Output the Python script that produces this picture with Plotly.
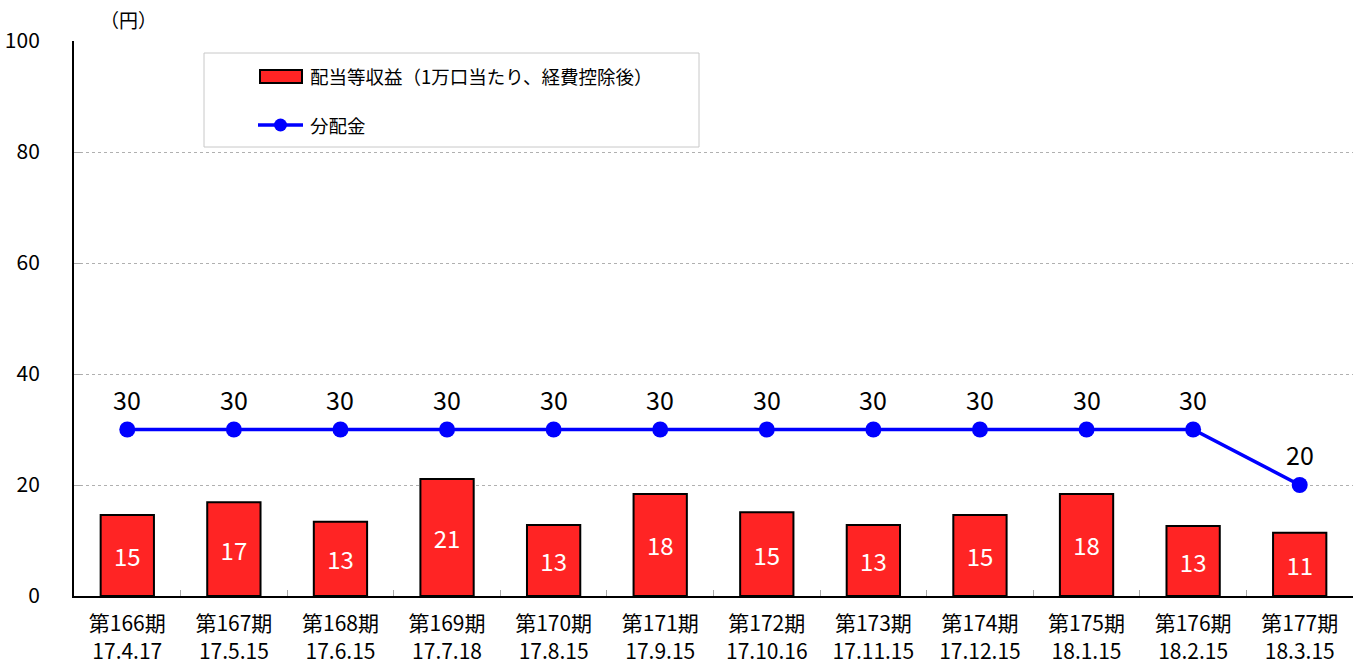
import plotly.graph_objects as go

periods = ["第166期", "第167期", "第168期", "第169期", "第170期", "第171期",
           "第172期", "第173期", "第174期", "第175期", "第176期", "第177期"]
dates = ["17.4.17", "17.5.15", "17.6.15", "17.7.18", "17.8.15", "17.9.15",
         "17.10.16", "17.11.15", "17.12.15", "18.1.15", "18.2.15", "18.3.15"]
income = [14.6, 16.9, 13.4, 21.1, 12.8, 18.4, 15.1, 12.8, 14.6, 18.4, 12.6, 11.4]
dividend = [30, 30, 30, 30, 30, 30, 30, 30, 30, 30, 30, 20]
yticks = [0, 20, 40, 60, 80, 100]
legend_names = ["配当等収益（1万口当たり、経費控除後）", "分配金"]

categories = [f"{p}<br>{d}" for p, d in zip(periods, dates)]
FONT = "Noto Sans CJK JP, Liberation Sans, sans-serif"
W, H = 1353, 663
L, R, T, B = 74, 0, 41, 67
PW, PH = W - L - R, H - T - B


def px(x):
    return (x - L) / PW


def py(y):
    return (H - B - y) / PH


fig = go.Figure()
fig.add_trace(go.Bar(
    x=categories, y=income, name=legend_names[0],
    marker=dict(color="#FF2424", line=dict(color="#000000", width=2)),
    width=0.5,
    texttemplate="%{y:.0f}", textposition="inside", insidetextanchor="middle",
    textfont=dict(color="white", size=24, family=FONT),
    showlegend=False,
))
fig.add_trace(go.Scatter(
    x=categories, y=dividend, name=legend_names[1],
    mode="lines+markers",
    line=dict(color="#0000FF", width=3.5),
    marker=dict(color="#0000FF", size=16),
    showlegend=False,
))
for c, v in zip(categories, dividend):
    fig.add_annotation(x=c, y=v, text=str(v), showarrow=False, yshift=31,
                       font=dict(size=25, family=FONT, color="black"))

fig.update_layout(
    width=W, height=H,
    margin=dict(l=L, r=R, t=T, b=B),
    plot_bgcolor="white", paper_bgcolor="white",
    font=dict(family=FONT, color="black"),
    showlegend=False,
)

# legend box (drawn by hand)
fig.add_shape(type="rect", xref="paper", yref="paper",
              x0=px(204), x1=px(699), y0=py(147), y1=py(53),
              line=dict(color="#C8C8C8", width=1), fillcolor="white", layer="below")
fig.add_shape(type="rect", xref="paper", yref="paper",
              x0=px(260), x1=px(302), y0=py(83), y1=py(70),
              line=dict(color="black", width=2), fillcolor="#FF2424")
fig.add_shape(type="line", xref="paper", yref="paper",
              x0=px(258), x1=px(303), y0=py(125), y1=py(125),
              line=dict(color="#0000FF", width=3.5))
fig.add_shape(type="circle", xref="paper", yref="paper",
              x0=px(274), x1=px(287), y0=py(131.5), y1=py(118.5),
              line=dict(color="#0000FF", width=0), fillcolor="#0000FF")
fig.add_annotation(text=legend_names[0], xref="paper", yref="paper",
                   x=px(308), y=py(76), xanchor="left", yanchor="middle",
                   showarrow=False, font=dict(size=18.5, family=FONT))
fig.add_annotation(text=legend_names[1], xref="paper", yref="paper",
                   x=px(308), y=py(125), xanchor="left", yanchor="middle",
                   showarrow=False, font=dict(size=18.5, family=FONT))

fig.add_annotation(text="（円）", xref="paper", yref="paper",
                   x=px(128), y=py(20), xanchor="center", yanchor="middle",
                   showarrow=False, font=dict(size=19, family=FONT))

fig.update_xaxes(
    type="category", range=[-0.5, len(categories) - 0.5], automargin=False,
    showline=True, linecolor="black", linewidth=2,
    tickson="boundaries", ticks="inside", ticklen=6, tickcolor="#AAAAAA",
    tickfont=dict(size=21, family=FONT), showgrid=False, ticklabelstandoff=8,
)
fig.update_yaxes(
    range=[0, 100], tickvals=yticks, showline=True, linecolor="black", linewidth=2,
    showgrid=True, gridcolor="#B0B0B0", griddash="dot", gridwidth=1, automargin=False,
    ticks="inside", ticklen=8, tickcolor="#AAAAAA",
    tickfont=dict(size=21, family=FONT), ticklabelstandoff=28, zeroline=False,
)

fig.write_html("out.html")
